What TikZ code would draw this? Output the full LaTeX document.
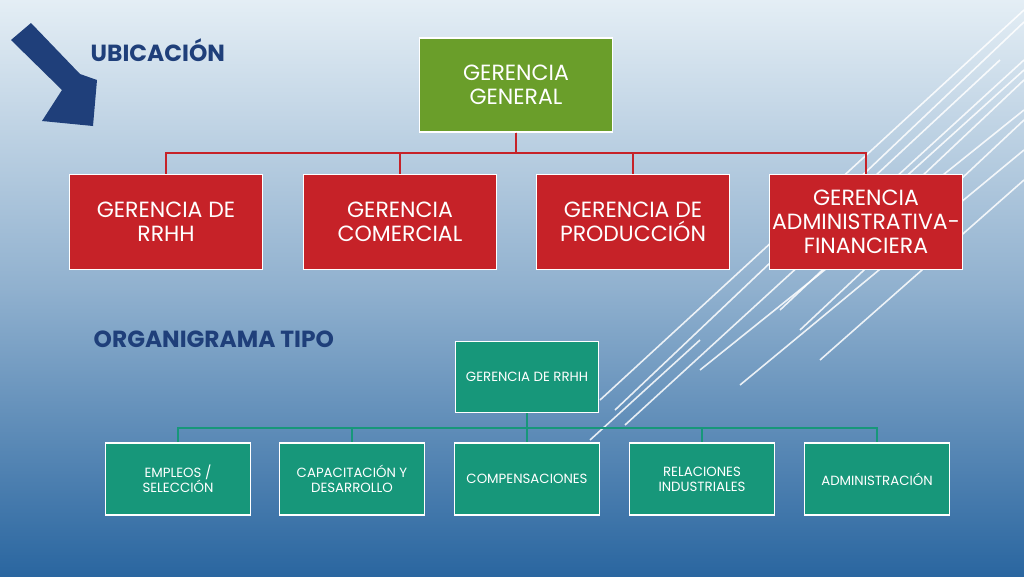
\documentclass[tikz,border=0pt]{standalone}
\usepackage{fontspec}
\setmainfont{Poppins}
\definecolor{ggreen}{HTML}{6A9E2A}
\definecolor{gred}{HTML}{C62228}
\definecolor{gteal}{HTML}{17977A}
\definecolor{tblue}{HTML}{1F3F7A}
\definecolor{bgtop}{HTML}{E4EEF5}
\definecolor{bgbot}{HTML}{2A66A0}
\tikzset{
  box/.style={draw=white,line width=1pt,minimum width=193*0.75pt,minimum height=95*0.75pt,text=white,align=center,font=\fontsize{16.5}{18}\selectfont,inner sep=0pt},
  sbox/.style={draw=white,line width=0.8pt,fill=gteal,minimum width=145*0.75pt,minimum height=72*0.75pt,text=white,align=center,font=\fontsize{10}{11.5}\selectfont,inner sep=1pt},
  title/.style={text=tblue,font=\bfseries\fontsize{17.5}{19}\selectfont,anchor=west},
  deco/.style={white,line width=1.2pt}
}
\begin{document}
\begin{tikzpicture}[x=0.75pt,y=-0.75pt]
\shade[top color=bgtop,bottom color=bgbot,middle color=bgtop!55!bgbot] (0,0) rectangle (1024,576);
\useasboundingbox (0,0) rectangle (1024,576);
% decorative lines
\foreach \a/\b/\c/\d in {615/410/1024/22, 625/425/1024/60, 600/400/1024/10, 780/310/1024/80, 700/370/1024/110, 740/385/1024/150, 800/330/1024/120, 860/190/1000/60, 880/200/1024/70, 820/360/1024/180, 590/440/700/340}
  \draw[deco,opacity=0.85] (\a,\b) -- (\c,\d);
% arrow
\fill[tblue] (11,40) -- (31,23) -- (80,74) -- (97,80) -- (93,126) -- (42,121) -- (62,90) -- cycle;
\node[title] (ub) at (86,50) {UBICACIÓN};
\node[title] (org) at (89,339) {ORGANIGRAMA TIPO};
% top chart
\node[box,fill=ggreen,minimum height=94*0.75pt] (gg) at (516,85) {GERENCIA\\GENERAL};
\node[box,fill=gred] (r1) at (166,222) {GERENCIA DE\\RRHH};
\node[box,fill=gred] (r2) at (400,222) {GERENCIA\\COMERCIAL};
\node[box,fill=gred] (r3) at (633,222) {GERENCIA DE\\PRODUCCIÓN};
\node[box,fill=gred] (r4) at (866,222) {GERENCIA\\ADMINISTRATIVA-\\FINANCIERA};
\foreach \n in {r1,r2,r3,r4}
  \draw[gred,line width=1.2pt] (gg.south) |- (\n.north |- 0,153) -- (\n.north);
% bottom chart
\node[sbox,minimum width=143*0.75pt,minimum height=71*0.75pt] (g) at (527,377) {GERENCIA DE RRHH};
\node[sbox] (s1) at (178,479) {EMPLEOS /\\SELECCIÓN};
\node[sbox] (s2) at (352,479) {CAPACITACIÓN Y\\DESARROLLO};
\node[sbox] (s3) at (527,479) {COMPENSACIONES};
\node[sbox] (s4) at (702,479) {RELACIONES\\INDUSTRIALES};
\node[sbox] (s5) at (877,479) {ADMINISTRACIÓN};
\foreach \n in {s1,s2,s3,s4,s5}
  \draw[gteal,line width=1.2pt] (g.south) |- (\n.north |- 0,428) -- (\n.north);
\end{tikzpicture}
\end{document}
